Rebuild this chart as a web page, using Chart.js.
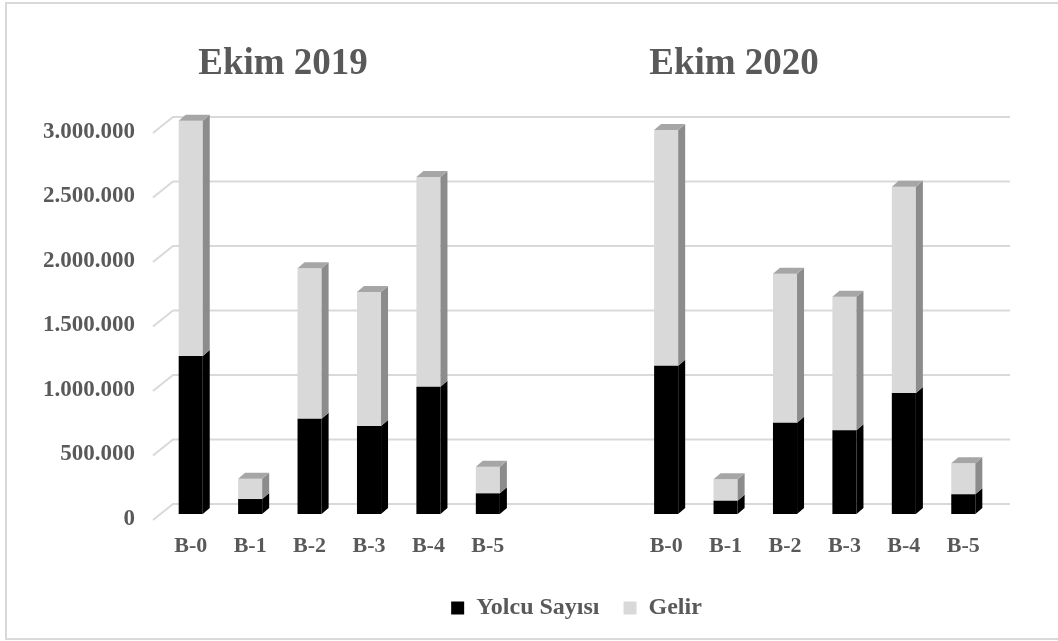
<!DOCTYPE html>
<html>
<head>
<meta charset="utf-8">
<script src="https://cdn.jsdelivr.net/npm/chart.js@4.4.0/dist/chart.umd.min.js"></script>
<style>
  html, body { margin: 0; padding: 0; background: #ffffff; }
  #kutu { position: relative; width: 1058px; height: 641px; }
</style>
</head>
<body>
<div id="kutu"><canvas id="grafik" width="1058" height="641"></canvas></div>
<script>
// Veriler (resimden okunan yaklaşık değerler)
const kategoriler = ["B-0", "B-1", "B-2", "B-3", "B-4", "B-5"];
const donemler = ["Ekim 2019", "Ekim 2020"];
const yolcu2019 = [1225000, 116000, 739000, 682000, 987000, 160000];
const gelir2019 = [1824000, 158000, 1166000, 1039000, 1625000, 207000];
const yolcu2020 = [1150000, 103000, 708000, 649000, 938000, 153000];
const gelir2020 = [1827000, 166000, 1155000, 1036000, 1599000, 240000];
const yEtiketleri = [0, 500000, 1000000, 1500000, 2000000, 2500000, 3000000];

const yaziRengi = "#595959";
const yaziTipi = "'Liberation Serif', 'Times New Roman', serif";

// iki dönem arasında boşluk için iki boş kategori
const bosluk = ["", ""];
const etiketler = [...kategoriler, ...bosluk, ...kategoriler];
const yolcuVerisi = [...yolcu2019, null, null, ...yolcu2020];
const gelirVerisi = [...gelir2019, null, null, ...gelir2020];

// 3B görünüm için kaydırma
const DX = 7, DY = 6;

// Arka plandaki ızgara çizgileri (3B zemin görünümü)
const izgaraEklentisi = {
    id: "izgara",
    beforeDatasetsDraw(chart) {
        const ctx = chart.ctx;
        const y = chart.scales.y;
        const alan = chart.chartArea;
        ctx.save();
        ctx.strokeStyle = "#d9d9d9";
        ctx.lineWidth = 2;
        yEtiketleri.forEach(deger => {
            const p = y.getPixelForValue(deger);
            ctx.beginPath();
            ctx.moveTo(alan.left - 8, p + 6);
            ctx.lineTo(alan.left + 12, p - 10);
            ctx.lineTo(alan.right + 17, p - 10);
            ctx.stroke();
        });
        ctx.restore();
    }
};

// Çubukların yan ve üst yüzleri
const kutuEklentisi = {
    id: "kutu3b",
    afterDatasetsDraw(chart) {
        const ctx = chart.ctx;
        ctx.save();
        chart.data.datasets.forEach((ds, i) => {
            const meta = chart.getDatasetMeta(i);
            meta.data.forEach((el, j) => {
                if (ds.data[j] == null) return;
                const sag = el.x + el.width / 2;
                const sol = el.x - el.width / 2;
                // yan yüz
                ctx.fillStyle = ds.yanRenk;
                ctx.beginPath();
                ctx.moveTo(sag, el.y);
                ctx.lineTo(sag + DX, el.y - DY);
                ctx.lineTo(sag + DX, el.base - DY);
                ctx.lineTo(sag, el.base);
                ctx.closePath();
                ctx.fill();
                // üst yüz (sadece en üstteki seri)
                if (i === chart.data.datasets.length - 1) {
                    ctx.fillStyle = ds.ustRenk;
                    ctx.beginPath();
                    ctx.moveTo(sol, el.y);
                    ctx.lineTo(sol + DX, el.y - DY);
                    ctx.lineTo(sag + DX, el.y - DY);
                    ctx.lineTo(sag, el.y);
                    ctx.closePath();
                    ctx.fill();
                }
            });
        });
        ctx.restore();
    }
};

// Lejantı biraz sağa kaydır (orijinaldeki gibi)
const lejantEklentisi = {
    id: "lejantKaydir",
    afterLayout(chart) {
        chart.legend.left += 80;
        chart.legend.right += 80;
    }
};

// Başlıklar ve dış çerçeve
const baslikEklentisi = {
    id: "basliklar",
    afterDraw(chart) {
        const ctx = chart.ctx;
        ctx.save();
        ctx.fillStyle = yaziRengi;
        ctx.font = "bold 37px " + yaziTipi;
        ctx.textAlign = "center";
        ctx.textBaseline = "alphabetic";
        ctx.fillText(donemler[0], 283, 74);
        ctx.fillText(donemler[1], 734, 74);
        ctx.strokeStyle = "#d9d9d9";
        ctx.lineWidth = 2;
        ctx.strokeRect(6, 3, 1070, 636);
        ctx.restore();
    }
};

function inicializarGrafico() {
    const ctx = document.getElementById("grafik").getContext("2d");

    new Chart(ctx, {
        type: "bar",
        data: {
            labels: etiketler,
            datasets: [{
                label: "Yolcu Sayısı",
                data: yolcuVerisi,
                backgroundColor: "#000000",
                yanRenk: "#000000",
                ustRenk: "#262626",
                clip: false,
            }, {
                label: "Gelir",
                data: gelirVerisi,
                backgroundColor: "#d9d9d9",
                yanRenk: "#8c8c8c",
                ustRenk: "#a6a6a6",
                clip: false,
            }],
        },
        options: {
            responsive: false,
            animation: false,
            layout: {
                padding: { top: 127, right: 65, bottom: 11, left: 0 }
            },
            datasets: {
                bar: {
                    categoryPercentage: 1,
                    barPercentage: 0.405,
                }
            },
            scales: {
                x: {
                    stacked: true,
                    grid: { display: false, drawTicks: false },
                    border: { display: false },
                    ticks: {
                        autoSkip: false,
                        maxRotation: 0,
                        padding: 19,
                        color: yaziRengi,
                        font: { family: yaziTipi, size: 22, weight: "bold" },
                    },
                    afterFit(scale) { scale.height = 58; },
                },
                y: {
                    stacked: true,
                    min: 0,
                    max: 3000000,
                    grid: { display: false, drawTicks: false },
                    border: { display: false },
                    afterBuildTicks(scale) {
                        scale.ticks = yEtiketleri.map(v => ({ value: v }));
                    },
                    ticks: {
                        padding: 26,
                        labelOffset: 5,
                        color: yaziRengi,
                        font: { family: yaziTipi, size: 23, weight: "bold" },
                        callback: v => v.toLocaleString("tr-TR"),
                    },
                    afterFit(scale) { scale.width = 161; },
                },
            },
            plugins: {
                legend: {
                    position: "bottom",
                    labels: {
                        boxWidth: 13,
                        boxHeight: 13,
                        padding: 24,
                        color: yaziRengi,
                        font: { family: yaziTipi, size: 24, weight: "bold" },
                    },
                },
                tooltip: { enabled: false },
            },
        },
        plugins: [izgaraEklentisi, kutuEklentisi, lejantEklentisi, baslikEklentisi],
    });
}

inicializarGrafico();
</script>
</body>
</html>
